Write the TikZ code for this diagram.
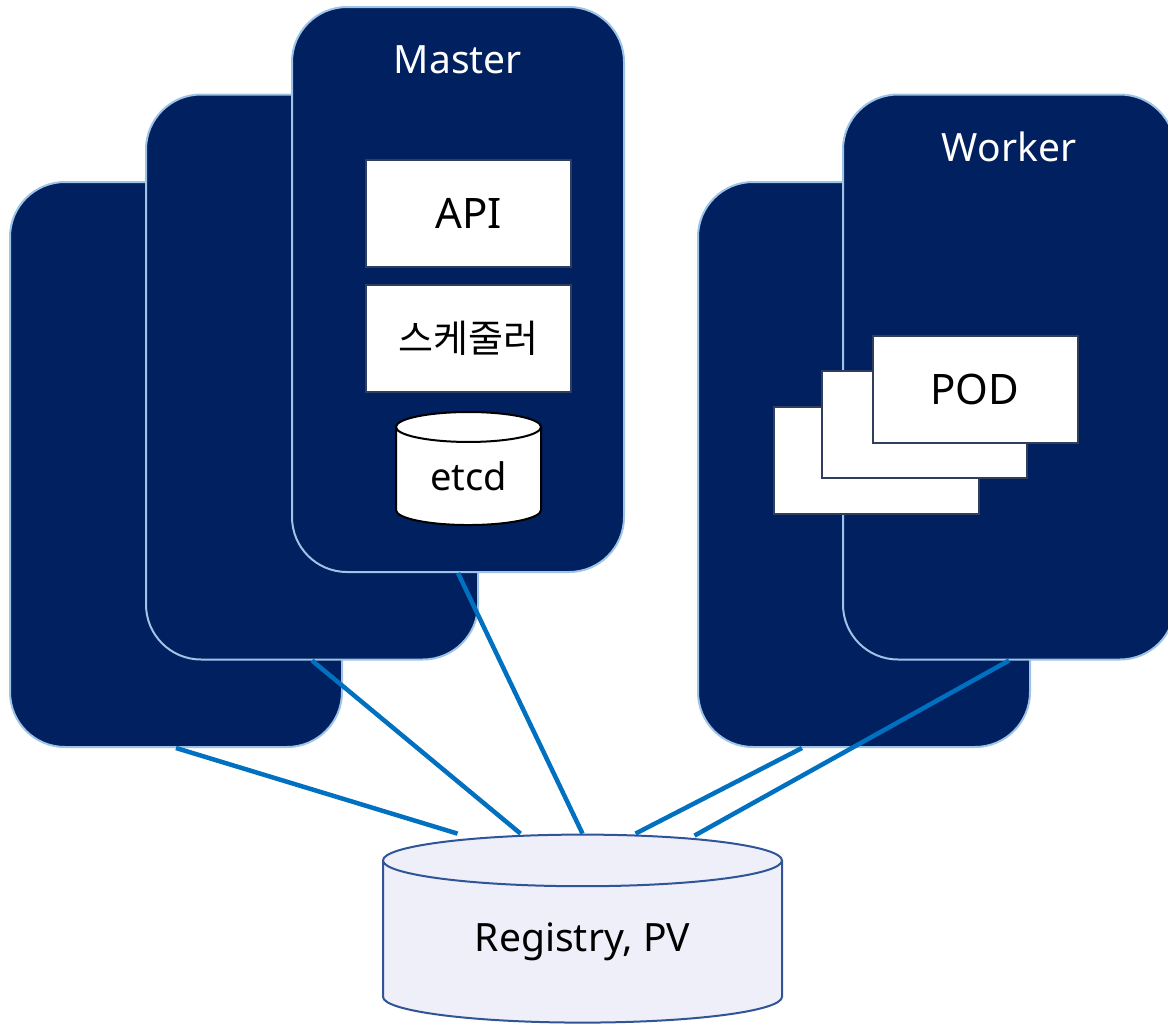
\documentclass[tikz,border=0pt]{standalone}
\usepackage{fontspec}
\setmainfont{Noto Sans}
\newfontfamily\krfont{Noto Sans CJK KR}
\usetikzlibrary{
  shapes.geometric,
  positioning,
  calc
}
\definecolor{nodefill}{RGB}{0, 32, 96}
\definecolor{nodeborder}{RGB}{157, 195, 230}
\definecolor{compborder}{RGB}{47, 62, 92}
\definecolor{linkcolor}{RGB}{0, 112, 192}
\definecolor{storefill}{RGB}{238, 239, 249}
\definecolor{storeborder}{RGB}{47, 85, 151}
\tikzset{
nodebox/.style={
  draw=nodeborder,
  line width=2pt,
  fill=nodefill,
  rounded corners=55pt,
  minimum width=332pt,
  minimum height=565pt
},
titletext/.style={
  text=white,
  font=\fontsize{39}{44}\selectfont
},
compbox/.style={
  draw=compborder,
  line width=2pt,
  fill=white,
  minimum width=205pt,
  minimum height=107pt,
  font=\fontsize{42}{48}\selectfont
},
store/.style={
  cylinder,
  shape border rotate=90,
  line width=2pt,
  inner sep=0pt
},
link/.style={
  draw=linkcolor,
  line width=4.5pt
}
}

\begin{document}
\begin{tikzpicture}[x=1pt, y=-1pt]
  \useasboundingbox (0,0) rectangle (1168,1026);
  \clip (0,0) rectangle (1168,1026);

  % Master nodes
  \node[nodebox] (m3) at (176,464.5) {};
  \node[nodebox] (m2) at (312,377) {};
  \node[nodebox] (m1) at (458,289.5) {};
  \node[titletext] (mtitle) at ($(m1.north)+(0,54)$) {Master};

  % Control plane parts
  \node[compbox] (api) at (468.5,213.5) {API};
  \node[compbox, below=16pt of api] (sched) {\krfont\fontsize{38}{44}\selectfont 스케줄러};
  \node[store, draw=black, fill=white, aspect=0.39,
    minimum width=145pt, minimum height=113pt,
    font=\fontsize{38}{44}\selectfont] (etcd) at (468.5,476.5) {etcd};

  % Worker nodes
  \node[nodebox] (w2) at (864,464.5) {};
  \node[nodebox] (w1) at (1009,377) {};
  \node[titletext] (wtitle) at ($(w1.north)+(0,53)$) {Worker};

  % Pods
  \node[compbox] (pod3) at (876,460.5) {};
  \node[compbox] (pod2) at (924,424.5) {};
  \node[compbox] (pod1) at (975,389.5) {POD};

  % Shared storage
  \node[store, draw=storeborder, fill=storefill, aspect=0.24,
    minimum width=399pt, minimum height=188pt,
    font=\fontsize{39}{44}\selectfont] (reg) at (582.5,942) {Registry, PV};

  % Links
  \draw[link] (m3.south) -- ($(reg.north)+(-125,0)$);
  \draw[link] (m2.south) -- ($(reg.north)+(-62,0)$);
  \draw[link] (m1.south) -- (reg.north);
  \draw[link] ($(w2.south)+(-62,0)$) -- ($(reg.north)+(53,0)$);
  \draw[link] (w1.south) -- ($(reg.north)+(112,2)$);
\end{tikzpicture}
\end{document}
